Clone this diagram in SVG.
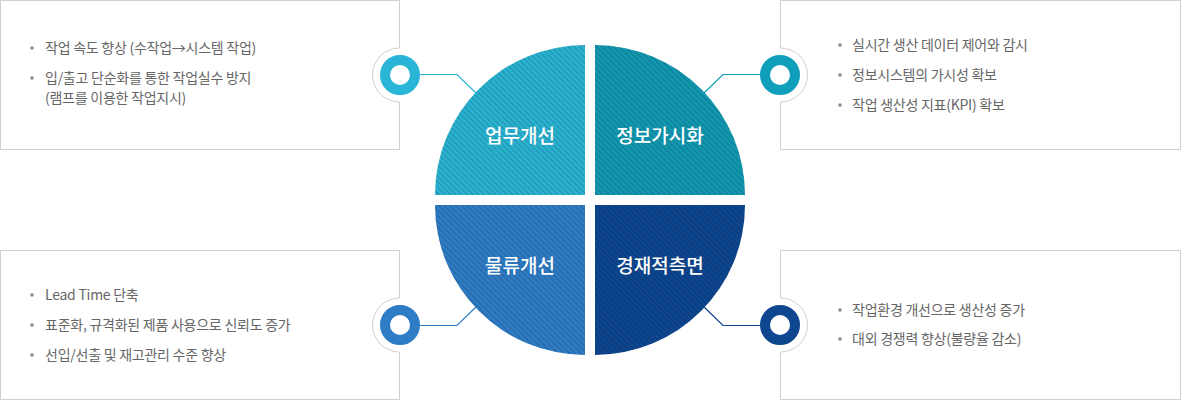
<svg xmlns="http://www.w3.org/2000/svg" width="1181" height="400" viewBox="0 0 1181 400">
<style>
.box{fill:#fff;stroke:#cfcfcf;stroke-width:1}
.t{font-family:"Noto Sans CJK KR","Noto Sans",sans-serif;font-size:14px;fill:#666;letter-spacing:-0.25px}
.q{font-family:"Noto Sans CJK KR","Noto Sans",sans-serif;font-size:19px;font-weight:500;fill:#fff;text-anchor:middle}
.dot{fill:#8a8a8a}
.ring{fill:none;stroke-width:10}
.ln{fill:none;stroke-width:1.2}
</style>
<defs>
<pattern id="hatch" width="4" height="4" patternUnits="userSpaceOnUse" patternTransform="rotate(-45)">
<rect x="0" y="0" width="1.6" height="4" fill="#000" fill-opacity="0.15"/>
</pattern>
</defs>
<rect width="1181" height="400" fill="#fff"/>

<g id="box-tl">
<path class="box" d="M0.5,0.5 H399.5 V48 A27,27 0 0 0 399.5,102 V149.5 H0.5 Z"/>
<circle class="dot" cx="32" cy="48" r="1.8"/>
<text class="t" x="45" y="53">작업 속도 향상 (수작업→시스템 작업)</text>
<circle class="dot" cx="32" cy="78" r="1.8"/>
<text class="t" x="45" y="83">입/출고 단순화를 통한 작업실수 방지</text>
<text class="t" x="45" y="103">(램프를 이용한 작업지시)</text>
</g>

<g id="box-tr">
<path class="box" d="M780.5,0.5 H1180.5 V149.5 H780.5 V102 A27,27 0 0 0 780.5,48 Z"/>
<circle class="dot" cx="840" cy="45" r="1.8"/>
<text class="t" x="852" y="50">실시간 생산 데이터 제어와 감시</text>
<circle class="dot" cx="840" cy="75" r="1.8"/>
<text class="t" x="852" y="80">정보시스템의 가시성 확보</text>
<circle class="dot" cx="840" cy="105" r="1.8"/>
<text class="t" x="852" y="110">작업 생산성 지표(KPI) 확보</text>
</g>

<g id="box-bl">
<path class="box" d="M0.5,250.5 H399.5 V298 A27,27 0 0 0 399.5,352 V399.5 H0.5 Z"/>
<circle class="dot" cx="32" cy="295" r="1.8"/>
<text class="t" x="45" y="300">Lead Time 단축</text>
<circle class="dot" cx="32" cy="325" r="1.8"/>
<text class="t" x="45" y="330">표준화, 규격화된 제품 사용으로 신뢰도 증가</text>
<circle class="dot" cx="32" cy="355" r="1.8"/>
<text class="t" x="45" y="360">선입/선출 및 재고관리 수준 향상</text>
</g>

<g id="box-br">
<path class="box" d="M780.5,250.5 H1180.5 V399.5 H780.5 V352 A27,27 0 0 0 780.5,298 Z"/>
<circle class="dot" cx="840" cy="310" r="1.8"/>
<text class="t" x="852" y="315">작업환경 개선으로 생산성 증가</text>
<circle class="dot" cx="840" cy="339" r="1.8"/>
<text class="t" x="852" y="344">대외 경쟁력 향상(불량율 감소)</text>
</g>

<g id="connectors">
<polyline class="ln" stroke="#29b5d5" points="420,74.5 457,74.5 476,93"/>
<polyline class="ln" stroke="#0f9fbb" points="760,74.5 723,74.5 704,93"/>
<polyline class="ln" stroke="#2e7cc6" points="420,325.5 457,325.5 476,307"/>
<polyline class="ln" stroke="#0e4690" points="760,325.5 723,325.5 704,307"/>
</g>

<g id="q-tl">
<path d="M585,195 L435,195 A150,150 0 0 1 585,45 Z" fill="#2ab4d3"/>
<path d="M585,195 L435,195 A150,150 0 0 1 585,45 Z" fill="url(#hatch)"/>
<text class="q" x="520" y="143">업무개선</text>
</g>
<g id="q-tr">
<path d="M595,195 L595,45 A150,150 0 0 1 745,195 Z" fill="#1299b2"/>
<path d="M595,195 L595,45 A150,150 0 0 1 745,195 Z" fill="url(#hatch)"/>
<text class="q" x="660" y="143">정보가시화</text>
</g>
<g id="q-bl">
<path d="M585,205 L585,355 A150,150 0 0 1 435,205 Z" fill="#2f7dc6"/>
<path d="M585,205 L585,355 A150,150 0 0 1 435,205 Z" fill="url(#hatch)"/>
<text class="q" x="520" y="273">물류개선</text>
</g>
<g id="q-br">
<path d="M595,205 L745,205 A150,150 0 0 1 595,355 Z" fill="#0e4791"/>
<path d="M595,205 L745,205 A150,150 0 0 1 595,355 Z" fill="url(#hatch)"/>
<text class="q" x="660" y="273">경재적측면</text>
</g>

<g id="icon-tl"><circle class="ring" cx="400" cy="75" r="15" stroke="#29b5d5"/></g>
<g id="icon-tr"><circle class="ring" cx="780" cy="75" r="15" stroke="#0f9fbb"/></g>
<g id="icon-bl"><circle class="ring" cx="400" cy="325" r="15" stroke="#2e7cc6"/></g>
<g id="icon-br"><circle class="ring" cx="780" cy="325" r="15" stroke="#0e4690"/></g>
</svg>
